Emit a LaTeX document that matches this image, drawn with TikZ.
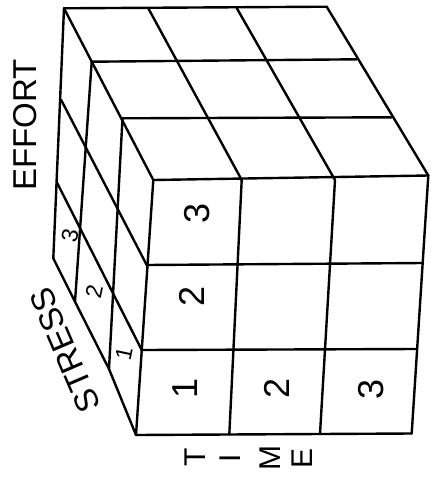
\documentclass[tikz,border=0pt]{standalone}
\usepackage{fontspec}
\setmainfont{Liberation Sans}
\begin{document}
\begin{tikzpicture}[x=1pt,y=-1pt,
  edge/.style={line width=2.4pt, line cap=round, line join=round},
  bignum/.style={font=\fontsize{36}{36}\selectfont, rotate=90, inner sep=0pt},
  smallnum/.style={font=\fontsize{23}{23}\selectfont, rotate=78, inner sep=0pt},
  axislabel/.style={font=\fontsize{33}{33}\selectfont, inner sep=0pt},
  timeletter/.style={font=\fontsize{30}{30}\selectfont, rotate=90, inner sep=0pt}]
\useasboundingbox (0,0) rectangle (431,482);
% corners
\coordinate (TBL) at (64,8.3);
\coordinate (TBR) at (326.7,6.7);
\coordinate (FTL) at (153.3,180);
\coordinate (FTR) at (428.3,175.5);
\coordinate (FBL) at (136,435);
\coordinate (FBR) at (411.7,433.5);
\coordinate (LBB) at (53.3,258.3);
% top face
\draw[edge] (TBL) -- (TBR);
\draw[edge] (91.7,61.7) -- (356.7,59.3);
\draw[edge] (122.5,118.3) -- (391.7,117.3);
\draw[edge] (FTL) -- (FTR);
\draw[edge] (TBL) -- (FTL);
\draw[edge] (148.3,8.3) -- (241.7,180);
\draw[edge] (236.7,8) -- (335,180);
\draw[edge] (TBR) -- (FTR);
% front face
\draw[edge] (146.7,265) -- (422.7,263);
\draw[edge] (141.7,350) -- (416.7,349);
\draw[edge] (FBL) -- (FBR);
\draw[edge] (FTL) -- (FBL);
\draw[edge] (241.7,180) -- (229.3,434.5);
\draw[edge] (335,180) -- (320,434);
\draw[edge] (FTR) -- (FBR);
% left face
\draw[edge] (TBL) -- (LBB);
\draw[edge] (91.7,61.7) -- (75,301.7);
\draw[edge] (122.5,118.3) -- (109,369);
\draw[edge] (61.2,100) -- (146.7,265);
\draw[edge] (57.2,183) -- (141.7,350);
\draw[edge] (LBB) -- (75,301.7) -- (109,369) -- (FBL);
% numbers on front face
\node[bignum] (e3) at (196.7,213.3) {3};
\node[bignum] (e2) at (191.7,296.7) {2};
\node[bignum] (e1) at (185,388.3) {1};
\node[bignum] (t2) at (277.3,388.3) {2};
\node[bignum] (t3) at (371,389) {3};
% numbers on left face
\node[smallnum] (s3) at (70,236) {3};
\node[smallnum] (s2) at (94,292) {2};
\node[smallnum] (s1) at (124,354) {1};
% axis labels
\node[axislabel, rotate=90] (effort) at (25,125) {EFFORT};
\node[axislabel, rotate=113.2] (stress) at (65,350) {STRESS};
\node[timeletter] (tT) at (195,457.5) {T};
\node[timeletter] (tI) at (230,458) {I};
\node[timeletter] (tM) at (270,458) {M};
\node[timeletter] (tE) at (302.3,458) {E};
\end{tikzpicture}
\end{document}
